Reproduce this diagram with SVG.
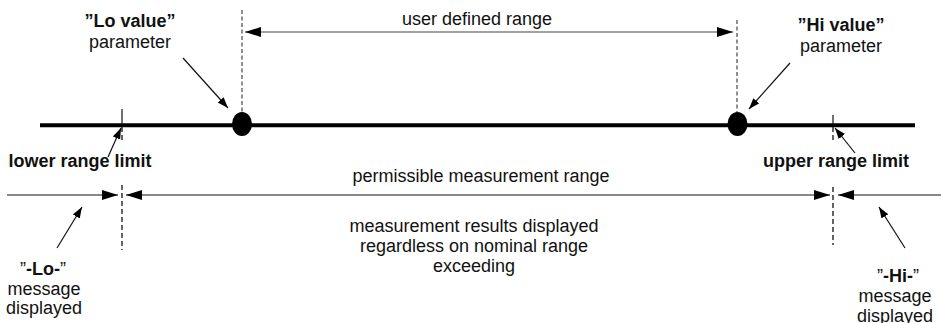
<svg xmlns="http://www.w3.org/2000/svg" width="941" height="323" viewBox="0 0 941 323">
<defs>
<style>
text{font-family:"Liberation Sans",Arial,sans-serif;font-size:18px;fill:#111;text-anchor:middle}
.b{font-weight:bold}
.s{text-anchor:start}
.thin{stroke:#111;stroke-width:1.2;fill:none}
.gray{stroke:#444;stroke-width:1.2;fill:none}
.dash{stroke:#555;stroke-width:1.3;stroke-dasharray:4 2.5;fill:none}
.dashk{stroke:#111;stroke-width:1.3;stroke-dasharray:5 3;fill:none}
</style>
<marker id="big" markerUnits="userSpaceOnUse" markerWidth="17" markerHeight="11" refX="16" refY="5" orient="auto-start-reverse">
<path d="M0,0 L16,5 L0,10 z" fill="#000"/>
</marker>
<marker id="sm" markerUnits="userSpaceOnUse" markerWidth="12" markerHeight="9" refX="11" refY="4" orient="auto">
<path d="M0,0 L11,4 L0,8 z" fill="#000"/>
</marker>
</defs>
<g id="connectors">
<line x1="40" y1="125.3" x2="915" y2="125.3" stroke="#000" stroke-width="4"/>
<line class="dash" x1="242" y1="10" x2="242" y2="112"/>
<line class="dash" x1="737" y1="20" x2="737" y2="112"/>
<line class="gray" x1="245" y1="32" x2="733" y2="32" marker-start="url(#big)" marker-end="url(#big)"/>
<line class="thin" x1="183" y1="58" x2="228" y2="108" marker-end="url(#sm)"/>
<line class="thin" x1="790" y1="63" x2="749" y2="109" marker-end="url(#sm)"/>
<line class="thin" x1="122" y1="109" x2="122" y2="125"/>
<line class="dashk" x1="122" y1="127" x2="122" y2="141"/>
<line class="thin" x1="833" y1="115" x2="833" y2="125"/>
<line class="dashk" x1="833" y1="127" x2="833" y2="142"/>
<line class="thin" x1="108" y1="157" x2="121" y2="128" marker-end="url(#sm)"/>
<line class="thin" x1="855" y1="153" x2="835" y2="128" marker-end="url(#sm)"/>
<line class="thin" x1="7" y1="195" x2="118" y2="195" marker-end="url(#big)"/>
<line class="thin" x1="126" y1="195" x2="830" y2="195" marker-start="url(#big)" marker-end="url(#big)"/>
<line class="thin" x1="941" y1="195" x2="838" y2="195" marker-end="url(#big)"/>
<line class="dashk" x1="122" y1="185" x2="122" y2="250"/>
<line class="dashk" x1="833" y1="187" x2="833" y2="245"/>
<line class="thin" x1="57" y1="248" x2="82" y2="207" marker-end="url(#sm)"/>
<line class="thin" x1="905" y1="248" x2="879" y2="207" marker-end="url(#sm)"/>
</g>
<g id="lo-dot"><ellipse cx="242" cy="124" rx="10" ry="12" fill="#000"/></g>
<g id="hi-dot"><ellipse cx="737.5" cy="124" rx="10" ry="12" fill="#000"/></g>
<g id="lo-value">
<text x="130" y="27" class="b">”Lo value”</text>
<text x="130" y="48">parameter</text>
</g>
<g id="hi-value">
<text x="841" y="31" class="b">”Hi value”</text>
<text x="841" y="52">parameter</text>
</g>
<g id="user-range"><text x="477" y="25">user defined range</text></g>
<g id="lower-limit"><text x="80" y="167" class="b">lower range limit</text></g>
<g id="upper-limit"><text x="836" y="167" class="b">upper range limit</text></g>
<g id="permissible"><text x="481" y="182">permissible measurement range</text></g>
<g id="results">
<text x="474" y="232">measurement results displayed</text>
<text x="474" y="252">regardless on nominal range</text>
<text x="474" y="272">exceeding</text>
</g>
<g id="lo-msg">
<text x="20" y="275" class="s">”</text>
<text x="26" y="275" class="s b">-Lo-</text>
<text x="60" y="275" class="s">”</text>
<text x="44" y="295">message</text>
<text x="44" y="314">displayed</text>
</g>
<g id="hi-msg">
<text x="877" y="282" class="s">”</text>
<text x="883" y="282" class="s b">-Hi-</text>
<text x="913" y="282" class="s">”</text>
<text x="895" y="302">message</text>
<text x="895" y="322">displayed</text>
</g>
</svg>
